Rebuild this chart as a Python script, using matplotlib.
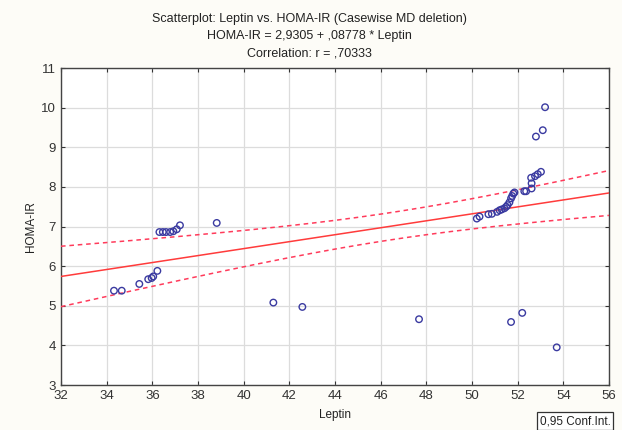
import numpy as np
import matplotlib
matplotlib.use("Agg")
import matplotlib.pyplot as plt

plt.rcParams['font.family'] = ['Liberation Sans', 'DejaVu Sans']

# Data
leptin = [34.32, 34.66, 35.43, 35.82, 35.97, 36.04, 36.22,
          36.31, 36.46, 36.60, 36.78, 36.92, 37.07, 37.21, 38.82,
          41.30, 42.57, 47.68,
          51.71, 52.20, 53.71,
          50.21, 50.33, 50.72, 50.87, 51.10, 51.21, 51.30, 51.42, 51.50, 51.56,
          51.64, 51.71, 51.76, 51.81, 51.86,
          52.29, 52.37, 52.61, 52.61, 52.59, 52.76, 52.88, 53.02,
          52.80, 53.10, 53.20]
homa = [5.38, 5.38, 5.55, 5.67, 5.70, 5.74, 5.88,
        6.86, 6.86, 6.86, 6.86, 6.88, 6.93, 7.03, 7.09,
        5.08, 4.97, 4.66,
        4.59, 4.82, 3.95,
        7.20, 7.25, 7.31, 7.32, 7.37, 7.41, 7.43, 7.46, 7.50, 7.54,
        7.61, 7.71, 7.77, 7.83, 7.86,
        7.89, 7.89, 7.96, 8.09, 8.23, 8.27, 8.32, 8.38,
        9.27, 9.43, 10.01]

intercept = 2.9305
slope = 0.08778
conf_level = 0.95

x = np.array(leptin)
y = np.array(homa)
n = len(x)
resid = y - (intercept + slope * x)
s = np.sqrt(np.sum(resid ** 2) / (n - 2))
xbar = x.mean()
sxx = np.sum((x - xbar) ** 2)
tval = 2.015

xs = np.linspace(32, 56, 200)
yfit = intercept + slope * xs
half = tval * s * np.sqrt(1.0 / n + (xs - xbar) ** 2 / sxx)

bg = '#fdfcf7'
fig = plt.figure(figsize=(6.22, 4.30), dpi=100, facecolor=bg)
ax = fig.add_axes([61 / 622, 1 - 385 / 430, (609 - 61) / 622, (385 - 68) / 430])
ax.set_facecolor('white')

ax.grid(True, color='#dcdcdc', linewidth=0.9)
ax.set_axisbelow(True)
ax.plot(xs, yfit, color='#ff3b3b', linewidth=1.1, zorder=3)
ax.plot(xs, yfit + half, color='#ff3b5b', linewidth=1.1, linestyle=(0, (3, 2.5)), zorder=3)
ax.plot(xs, yfit - half, color='#ff3b5b', linewidth=1.1, linestyle=(0, (3, 2.5)), zorder=3)
ax.scatter(x, y, s=22, facecolors='none', edgecolors='#3a3aa0', linewidths=1.0, zorder=4)

ax.set_xlim(32, 56)
ax.set_ylim(3, 11)
ax.set_xticks(np.arange(32, 57, 2))
ax.set_yticks(np.arange(3, 12, 1))
ax.tick_params(direction='in', length=3, width=0.8, top=True, right=True,
               labelsize=9.5, labelcolor='#333333', colors='#333333')
for sp in ax.spines.values():
    sp.set_color('#444444')
    sp.set_linewidth(1.0)

ax.set_xlabel('Leptin', fontsize=8.5, color='#222222', labelpad=5)
ax.set_ylabel('HOMA-IR', fontsize=8.5, color='#222222', labelpad=3)

title_lines = ["Scatterplot: Leptin vs. HOMA-IR (Casewise MD deletion)",
               "HOMA-IR = 2,9305 + ,08778 * Leptin",
               "Correlation: r = ,70333"]
for i, t in enumerate(title_lines):
    fig.text(309 / 622, 1 - (19 + i * 17) / 430, t, ha='center', va='center',
             fontsize=9, color='#222222')

fig.text(575 / 622, 1 - 421 / 430, "0,95 Conf.Int.", ha='center', va='center', fontsize=8.5,
         color='#222222',
         bbox=dict(boxstyle='square,pad=0.25', facecolor='white', edgecolor='#333333', linewidth=0.9))

fig.savefig('out.png', dpi=100, facecolor=bg)
